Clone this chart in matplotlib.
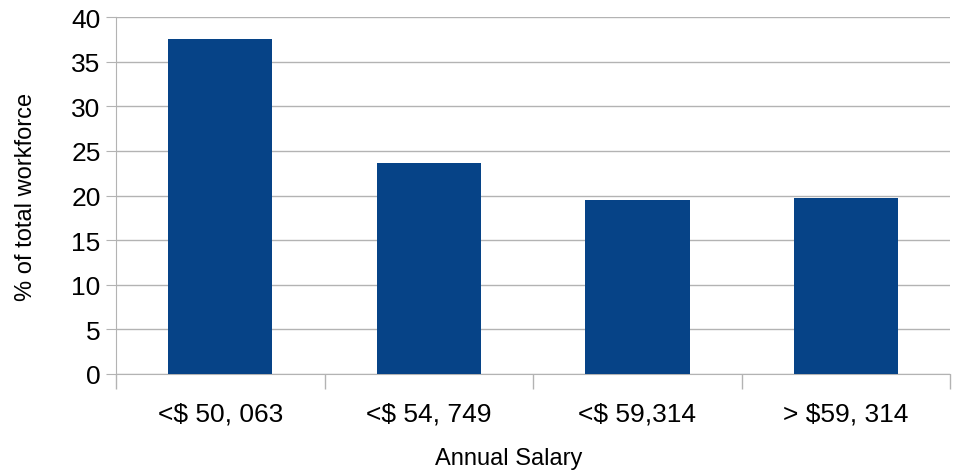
import matplotlib
matplotlib.use("Agg")
import matplotlib.pyplot as plt
from matplotlib import font_manager

# Chart data
categories = ["<$ 50, 063", "<$ 54, 749", "<$ 59,314", "> $59, 314"]
values = [37.6, 23.6, 19.5, 19.7]
yticks = [0, 5, 10, 15, 20, 25, 30, 35, 40]

names = set(f.name for f in font_manager.fontManager.ttflist)
family = "Liberation Sans Narrow" if "Liberation Sans Narrow" in names else "Liberation Sans"
plt.rcParams['font.family'] = [family, 'DejaVu Sans']

fig = plt.figure(figsize=(9.58, 4.77), dpi=100)
ax = fig.add_axes([0.121, 0.2145, 0.871, 0.747])

x = range(len(categories))
ax.bar(x, values, width=0.5, color="#064387", zorder=3)

ax.set_xlim(-0.5, len(categories) - 0.5)
ax.set_ylim(0, 40)
ax.set_yticks(yticks)
ax.set_xticks(list(x))
ax.set_xticklabels(categories, fontsize=19)
ax.set_xticks([i - 0.5 for i in range(len(categories) + 1)], minor=True)
ax.tick_params(axis="x", which="major", length=0, pad=20)
ax.tick_params(axis="x", which="minor", length=11, color="#b3b3b3", width=1)
ax.tick_params(axis="y", length=7, color="#b3b3b3", labelsize=19, pad=4)

ax.grid(axis="y", color="#b3b3b3", linewidth=1, zorder=0)
for s in ["top", "right"]:
    ax.spines[s].set_visible(False)
ax.spines["left"].set_color("#b3b3b3")
ax.spines["bottom"].set_color("#b3b3b3")

ax.set_xlabel("Annual Salary", fontsize=17)
ax.xaxis.set_label_coords(0.471, -0.205)
ax.set_ylabel("% of total workforce", fontsize=17)
ax.yaxis.set_label_coords(-0.094, 0.5)

fig.savefig("out.png", dpi=100)
